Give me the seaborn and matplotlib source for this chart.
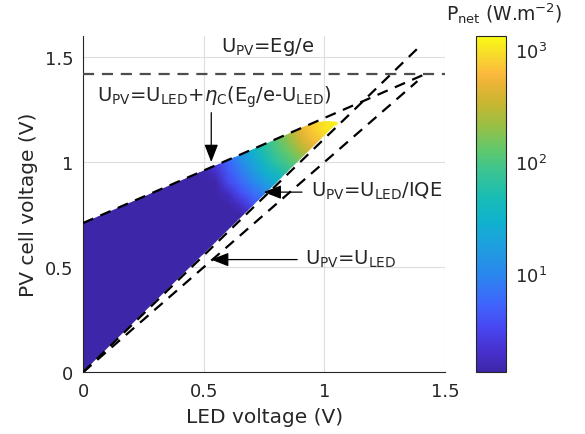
import matplotlib
matplotlib.use('Agg')
import matplotlib.pyplot as plt
import seaborn as sns
import numpy as np
from matplotlib.colors import LinearSegmentedColormap, LogNorm
from matplotlib.patches import Polygon
from matplotlib.ticker import NullLocator

# net power map, log10(P_net / W.m-2) on a coarse grid
led_grid = [0, 0.45, 0.50, 0.55, 0.60, 0.65, 0.70, 0.75, 0.80, 0.85, 0.90, 0.95, 1.00, 1.05, 1.10]
pv_grid = [0, 0.60, 0.65, 0.70, 0.75, 0.80, 0.85, 0.90, 0.95, 1.00, 1.05, 1.10, 1.15, 1.20, 1.25]
log_pnet = [
    [0, 0, 0, 0, 0, 0, 0, 0, 0, 0, 0, 0, 0, 0, 0],
    [0, 0, 0, 0, 0, 0, 0, 0, 0, 0, 0, 0, 0.05, 0.07, 0.05],
    [0, 0, 0, 0, 0, 0, 0, 0, 0, 0.15, 0.30, 0.40, 0.45, 0.46, 0.45],
    [0, 0, 0, 0, 0, 0, 0.05, 0.20, 0.40, 0.57, 0.66, 0.71, 0.76, 0.77, 0.76],
    [0, 0, 0, 0, 0, 0, 0.27, 0.55, 0.72, 0.85, 0.93, 0.99, 1.03, 1.05, 1.03],
    [0, 0, 0, 0, 0, 0.30, 0.58, 0.76, 0.94, 1.08, 1.20, 1.30, 1.36, 1.38, 1.36],
    [0, 0, 0, 0, 0.25, 0.55, 0.76, 0.96, 1.15, 1.35, 1.50, 1.60, 1.65, 1.67, 1.65],
    [0, 0, 0, 0.10, 0.50, 0.73, 0.96, 1.20, 1.44, 1.61, 1.78, 1.86, 1.92, 1.94, 1.92],
    [0, 0, 0, 0.30, 0.62, 0.88, 1.15, 1.42, 1.61, 1.84, 1.97, 2.04, 2.13, 2.16, 2.13],
    [0, 0, 0.05, 0.42, 0.72, 1.01, 1.30, 1.58, 1.83, 2.00, 2.15, 2.32, 2.42, 2.46, 2.42],
    [0, 0, 0.15, 0.55, 0.85, 1.15, 1.46, 1.72, 1.96, 2.14, 2.37, 2.57, 2.70, 2.74, 2.70],
    [0, 0, 0.25, 0.62, 0.92, 1.26, 1.55, 1.83, 2.04, 2.28, 2.55, 2.76, 2.89, 2.92, 2.89],
    [0, 0, 0.30, 0.66, 0.97, 1.30, 1.60, 1.88, 2.08, 2.38, 2.67, 2.87, 3.00, 3.05, 3.00],
    [0, 0, 0.32, 0.68, 0.99, 1.29, 1.61, 1.90, 2.10, 2.40, 2.70, 2.90, 3.00, 3.10, 3.00],
    [0, 0, 0.30, 0.66, 0.96, 1.29, 1.58, 1.87, 2.07, 2.35, 2.63, 2.83, 2.95, 3.00, 2.95],
]
log_min, log_max = 0.125, 3.125

# outline of the region where the map exists
wedge_x = [0, 1.04, 1.055, 1.05, 1.02, 0.97, 0.90, 0.85, 0]
wedge_y = [0, 1.17, 1.183, 1.19, 1.195, 1.19, 1.16, 1.135, 0.71]

# limit lines (LED voltage, PV voltage)
eg_x, eg_y = [0, 1.5], [1.42, 1.42]
carnot_x, carnot_y = [0, 1.41], [0.71, 1.415]
iqe_x, iqe_y = [0, 1.385], [0, 1.54]
unity_x, unity_y = [0, 1.385], [0, 1.385]

# parula-like colormap sampled from the colorbar
parula_pos = [0.00, 0.06, 0.13, 0.20, 0.29, 0.38, 0.45, 0.52, 0.60, 0.66, 0.73, 0.80, 0.86, 0.89, 0.94, 1.00]
parula_rgb = [(62, 38, 168), (70, 48, 205), (72, 70, 240), (64, 100, 252), (42, 135, 238),
              (30, 160, 222), (15, 178, 205), (25, 188, 180), (60, 196, 145), (95, 200, 110),
              (150, 192, 70), (200, 182, 48), (235, 180, 55), (251, 186, 61), (248, 215, 45),
              (249, 250, 20)]
parula = LinearSegmentedColormap.from_list(
    'parula', [(p, tuple(c / 255 for c in rgb)) for p, rgb in zip(parula_pos, parula_rgb)])

sns.set_style('white')
plt.rcParams['font.family'] = ['DejaVu Sans']
plt.rcParams['mathtext.fontset'] = 'dejavusans'
dark = (0.15, 0.15, 0.15)

fig = plt.figure(figsize=(5.85, 4.35), dpi=100)
ax = fig.add_axes([0.142, 0.142, 0.619, 0.773])
cax = fig.add_axes([0.814, 0.142, 0.0513, 0.773])

X, Y = np.meshgrid(led_grid, pv_grid)
P = 10 ** np.array(log_pnet)
norm = LogNorm(vmin=10 ** log_min, vmax=10 ** log_max)
mesh = ax.pcolormesh(X, Y, P, shading='gouraud', cmap=parula, norm=norm, zorder=2)
clip = Polygon(np.column_stack([wedge_x, wedge_y]), closed=True, transform=ax.transData,
               facecolor='none', edgecolor='none')
ax.add_patch(clip)
mesh.set_clip_path(clip)

# dashed limit lines
for xs, ys, col in [(eg_x, eg_y, '#4d4d4d'), (carnot_x, carnot_y, 'k'),
                    (iqe_x, iqe_y, 'k'), (unity_x, unity_y, 'k')]:
    sns.lineplot(x=xs, y=ys, ax=ax, color=col, lw=1.6, linestyle='--',
                 sort=False, estimator=None, legend=False, zorder=3)
    ax.lines[-1].set_dashes((5, 3.5))

fs = 14
ax.text(0.571, 1.527, r'$\mathregular{U_{PV}}$=Eg/e', fontsize=fs, ha='left', va='baseline')
ax.text(0.057, 1.293, r'$\mathregular{U_{PV}}$=$\mathregular{U_{LED}}$+$\eta_\mathregular{C}$($\mathregular{E_g}$/e-$\mathregular{U_{LED}}$)',
        fontsize=fs, ha='left', va='baseline')
ax.text(0.945, 0.841, r'$\mathregular{U_{PV}}$=$\mathregular{U_{LED}}$/IQE', fontsize=fs, ha='left', va='baseline')
ax.text(0.921, 0.516, r'$\mathregular{U_{PV}}$=$\mathregular{U_{LED}}$', fontsize=fs, ha='left', va='baseline')

arrow = dict(arrowstyle='-|>,head_length=0.9,head_width=0.35', color='k', lw=0.9,
             shrinkA=0, shrinkB=0, mutation_scale=12)
ax.annotate('', xy=(0.531, 1.0), xytext=(0.531, 1.235), arrowprops=arrow, zorder=4)
ax.annotate('', xy=(0.748, 0.857), xytext=(0.907, 0.857), arrowprops=arrow, zorder=4)
ax.annotate('', xy=(0.53, 0.536), xytext=(0.887, 0.536), arrowprops=arrow, zorder=4)

ax.set_xlim(0, 1.5)
ax.set_ylim(0, 1.6)
ax.set_xticks([0, 0.5, 1, 1.5])
ax.set_xticklabels(['0', '0.5', '1', '1.5'])
ax.set_yticks([0, 0.5, 1, 1.5])
ax.set_yticklabels(['0', '0.5', '1', '1.5'])
ax.tick_params(direction='in', length=4, width=0.8, color=dark, labelcolor=dark,
               labelsize=13, pad=7)
ax.set_xlabel('LED voltage (V)', fontsize=14.5, color=dark, labelpad=5)
ax.set_ylabel('PV cell voltage (V)', fontsize=14.5, color=dark, labelpad=5)
ax.grid(True, color='#dedede', lw=0.8)
ax.set_axisbelow(True)
for side in ['top', 'right']:
    ax.spines[side].set_visible(False)
for side in ['left', 'bottom']:
    ax.spines[side].set_color(dark)
    ax.spines[side].set_linewidth(0.8)

cb = fig.colorbar(mesh, cax=cax)
cb.set_ticks([10, 100, 1000])
cax.yaxis.set_minor_locator(NullLocator())
cax.tick_params(direction='in', length=4, width=0.8, color=dark, labelcolor=dark,
                labelsize=13, pad=6)
cb.outline.set_edgecolor(dark)
cb.outline.set_linewidth(0.8)
fig.text(0.862, 0.952, r'$\mathregular{P_{net}}$ (W.m$^{-2}$)', fontsize=13.5, color=dark,
         ha='center', va='baseline')

fig.savefig('out.png', dpi=100)
